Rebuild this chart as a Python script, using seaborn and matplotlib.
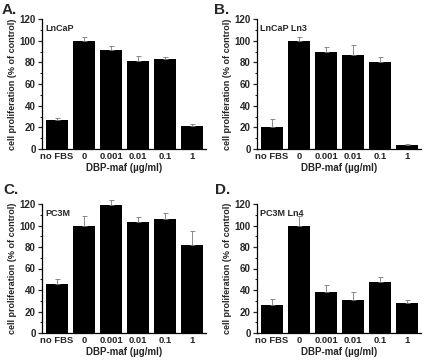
import matplotlib
matplotlib.use("Agg")
import matplotlib.pyplot as plt
import seaborn as sns
import pandas as pd
from matplotlib.ticker import MultipleLocator

sns.set_style("ticks")
plt.rcParams['font.family'] = ['Liberation Sans', 'DejaVu Sans']
plt.rcParams['font.weight'] = 'bold'

categories = ["no FBS", "0", "0.001", "0.01", "0.1", "1"]

lncap_vals = [27, 100, 91, 81, 83, 21]
lncap_err = [1.5, 3, 4, 4.5, 1.5, 2]
lncap_ln3_vals = [20, 100, 90, 87, 80, 4]
lncap_ln3_err = [8, 3, 4, 9, 5, 1]
pc3m_vals = [46, 100, 119, 103, 106, 82]
pc3m_err = [4, 9, 5, 5, 6, 13]
pc3m_ln4_vals = [26, 100, 38, 31, 47, 28]
pc3m_ln4_err = [6, 9, 7, 7, 5, 3]

panel_letters = ["A.", "B.", "C.", "D."]
panel_titles = ["LnCaP", "LnCaP Ln3", "PC3M", "PC3M Ln4"]
xlabel = "DBP-maf (\u00b5g/ml)"
ylabel = "cell proliferation (% of control)"

W, H = 425, 361
fig = plt.figure(figsize=(W / 100, H / 100), dpi=100)

def px_axes(left, top, right, bottom):
    return fig.add_axes([left / W, 1 - bottom / H, (right - left) / W, (bottom - top) / H])

boxes = [(42, 19, 206, 149), (257, 19, 421, 149), (42, 204, 206, 333), (257, 204, 421, 333)]
letter_pos = [(2, 3), (214, 3), (3, 183), (215, 183)]
data = [(lncap_vals, lncap_err), (lncap_ln3_vals, lncap_ln3_err),
        (pc3m_vals, pc3m_err), (pc3m_ln4_vals, pc3m_ln4_err)]

for i, (box, (vals, errs)) in enumerate(zip(boxes, data)):
    ax = px_axes(*box)
    df = pd.DataFrame({"dose": categories, "value": vals})
    sns.barplot(data=df, x="dose", y="value", order=categories, color="black",
                width=0.82, edgecolor="none", errorbar=None, ax=ax, saturation=1)
    eb = ax.errorbar(range(len(categories)), vals, yerr=[[0] * len(errs), errs], fmt="none",
                     ecolor="#777777", elinewidth=0.6, capsize=1.8, capthick=0.6)
    for artist in eb.lines[1] + eb.lines[2]:
        artist.set_clip_on(False)
    ax.set_xlim(-0.56, 5.52)
    ax.set_ylim(0, 120)
    ax.yaxis.set_major_locator(MultipleLocator(20))
    ax.yaxis.set_minor_locator(MultipleLocator(10))
    ax.tick_params(axis="y", which="major", direction="out", length=3, width=0.9,
                   labelsize=7, pad=1.5)
    ax.tick_params(axis="y", which="minor", direction="out", length=1.8, width=0.8)
    ax.tick_params(axis="x", length=0, labelsize=6.8, pad=2)
    for lab in ax.get_xticklabels() + ax.get_yticklabels():
        lab.set_fontweight("bold")
    sns.despine(ax=ax)
    for s in ("left", "bottom"):
        ax.spines[s].set_linewidth(0.9)
        ax.spines[s].set_color("black")
    ax.set_xlabel(xlabel, fontsize=7, fontweight="bold", labelpad=1.5)
    ax.set_ylabel(ylabel, fontsize=6.5, fontweight="bold")
    ax.yaxis.set_label_coords(-25 / 164, 0.5)
    ax.text(3 / 164, 0.965, panel_titles[i], transform=ax.transAxes, fontsize=6.5,
            fontweight="bold", ha="left", va="top")
    lx, ly = letter_pos[i]
    fig.text(lx / W, 1 - ly / H, panel_letters[i], fontsize=11, fontweight="bold",
             ha="left", va="top")

fig.savefig("out.png", dpi=100, facecolor="white")
